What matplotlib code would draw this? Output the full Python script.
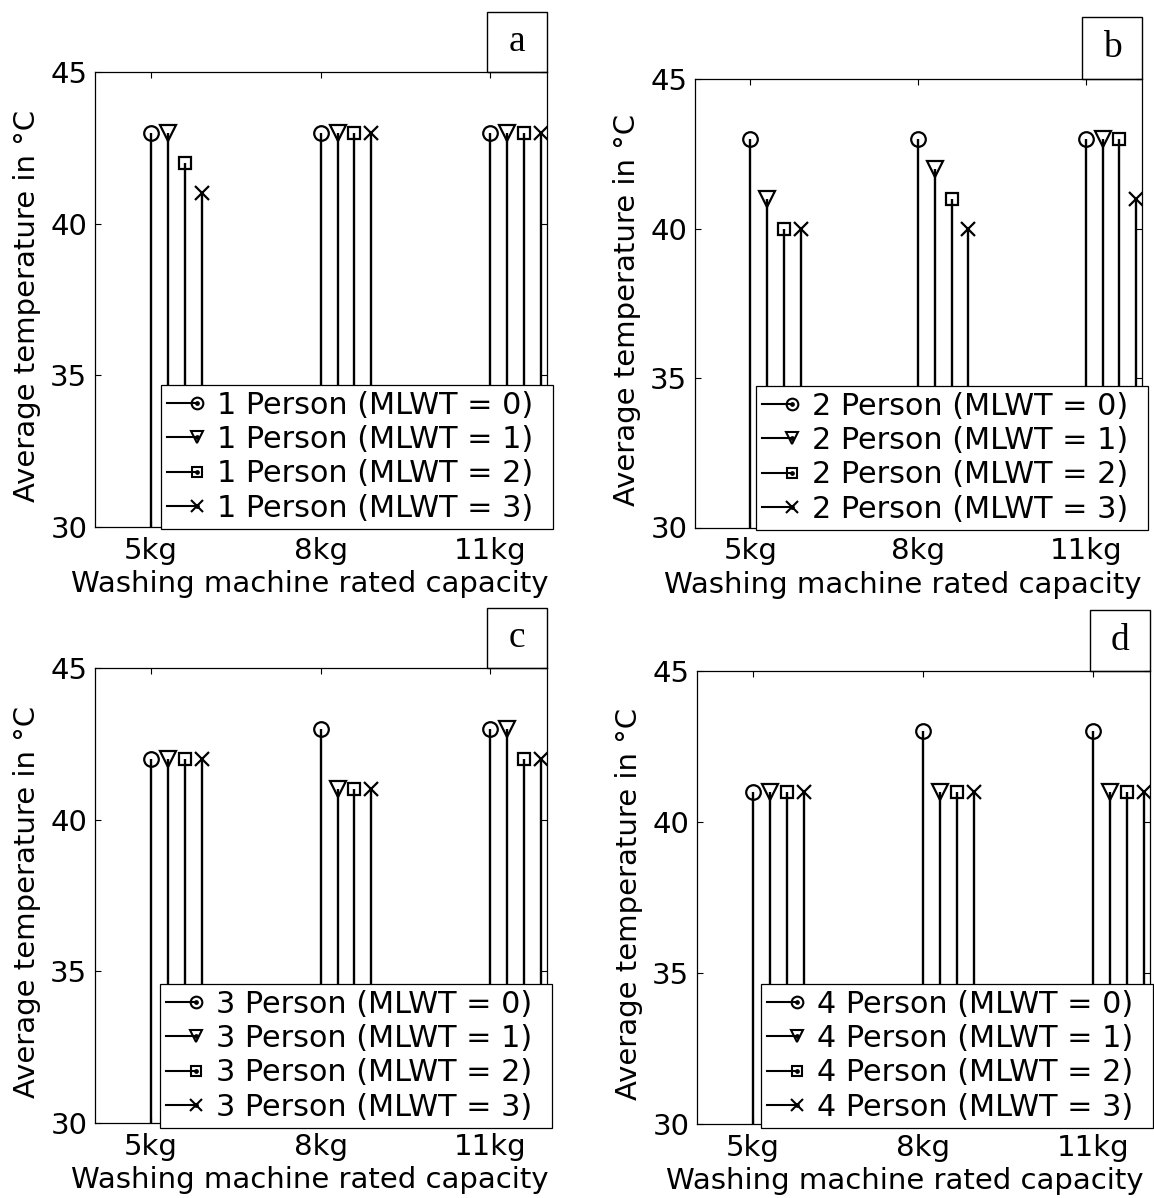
import matplotlib.pyplot as plt
import numpy as np
from matplotlib.legend_handler import HandlerBase
from matplotlib.lines import Line2D
from matplotlib.patches import Rectangle

capacities = ['5kg', '8kg', '11kg']
mlwt_levels = [0, 1, 2, 3]

# average temperature, one row per MLWT level, one column per capacity
temps_1_person = [[43, 43, 43],
                  [43, 43, 43],
                  [42, 43, 43],
                  [41, 43, 43]]
temps_2_person = [[43, 43, 43],
                  [41, 42, 43],
                  [40, 41, 43],
                  [40, 40, 41]]
temps_3_person = [[42, 43, 43],
                  [42, 41, 43],
                  [42, 41, 42],
                  [42, 41, 42]]
temps_4_person = [[41, 43, 43],
                  [41, 41, 41],
                  [41, 41, 41],
                  [41, 41, 41]]

plt.rcParams['font.family'] = ['DejaVu Sans']
plt.rcParams['font.size'] = 21

W, H = 1154, 1198
fig = plt.figure(figsize=(W / 100, H / 100), dpi=100)

markers = ['o', 'v', 's', 'x']
msizes = [10.5, 11, 9.2, 10]


class StemKey(HandlerBase):
    # legend key drawn as a short line ending in the marker, with a dot in it
    def create_artists(self, legend, orig_handle, xdescent, ydescent,
                       width, height, fontsize, trans):
        y = (height - ydescent) / 2
        x0, x1 = -xdescent, width - xdescent
        line = Line2D([x0, x1], [y, y], color='k', lw=1.5)
        mark = Line2D([x1], [y], marker=orig_handle.get_marker(),
                      markersize=orig_handle.get_markersize() * 0.8,
                      mfc='none', mec='k', mew=1.5, ls='none')
        dot = Line2D([x1], [y], marker='o', markersize=2.4, color='k', ls='none')
        for a in (line, mark, dot):
            a.set_transform(trans)
        return [line, mark, dot]


def px_box(x0, y0, x1, y1):
    # pixel box (top-left origin) -> figure fraction [left, bottom, width, height]
    return [x0 / W, 1 - y1 / H, (x1 - x0) / W, (y1 - y0) / H]


def draw_panel(box, temps, persons, letter, leg_box, tag_h, xlab_x):
    left, top, right, bottom = box
    ax = fig.add_axes(px_box(left, top, right, bottom))
    groups = np.arange(1, len(capacities) + 1)
    handles = []
    for k, level in enumerate(mlwt_levels):
        x = groups + 0.1 * k
        markerline, stemlines, baseline = ax.stem(x, temps[k], linefmt='k-',
                                                  markerfmt='ko', bottom=30)
        markerline.set_marker(markers[k])
        markerline.set_markersize(msizes[k])
        markerline.set_markerfacecolor('none')
        markerline.set_markeredgecolor('k')
        markerline.set_markeredgewidth(1.6)
        stemlines.set_linewidth(1.7)
        stemlines.set_color('k')
        baseline.set_visible(False)
        handles.append(Line2D([], [], marker=markers[k], markersize=msizes[k],
                              color='k', label=f'{persons} Person (MLWT = {level})'))

    ax.set_xlim(0.67, 3.335)
    ax.set_ylim(30, 45)
    ax.set_xticks(groups)
    ax.set_xticklabels(capacities)
    ax.set_yticks([30, 35, 40, 45])
    ax.tick_params(direction='in', top=True, right=True, length=4, width=0.8)
    ax.tick_params(axis='x', pad=7)
    ax.tick_params(axis='y', pad=5.5)
    for s in ax.spines.values():
        s.set_linewidth(0.9)
    ax.set_xlabel('Washing machine rated capacity', labelpad=4)
    ax.set_ylabel('Average temperature in °C', labelpad=7)
    ax.xaxis.label.set_x(xlab_x)
    ax.yaxis.label.set_y(0.485)

    lx0, ly0, lx1, ly1 = leg_box
    leg = ax.legend(handles=handles, loc='lower left', mode='expand',
                    bbox_to_anchor=px_box(lx0, ly0, lx1, ly1),
                    bbox_transform=fig.transFigure, borderaxespad=0,
                    handler_map={Line2D: StemKey()}, fancybox=False,
                    framealpha=1, edgecolor='k', fontsize=21.8,
                    borderpad=0.2, labelspacing=0.18, handlelength=1.0,
                    handletextpad=0.66)
    leg.get_frame().set_linewidth(0.9)

    # boxed panel letter sitting on the top right corner
    tag_w = 60
    rect = Rectangle(((right - tag_w) / W, 1 - top / H), tag_w / W, tag_h / H,
                     transform=fig.transFigure, fill=False, ec='k', lw=1.0,
                     clip_on=False)
    fig.add_artist(rect)
    fig.text((right - tag_w / 2) / W, 1 - (top - tag_h / 2) / H, letter,
             family='Liberation Serif', fontsize=27, ha='center', va='center')
    return ax


draw_panel((95, 72, 547, 527), temps_1_person, 1, 'a', (161, 361, 553, 529), 60, 0.476)
draw_panel((695, 79, 1142, 527.5), temps_2_person, 2, 'b', (756, 362, 1148, 530), 62, 0.465)
draw_panel((95, 668, 547, 1123), temps_3_person, 3, 'c', (160, 960, 552, 1128), 60, 0.476)
draw_panel((697, 671, 1150, 1124), temps_4_person, 4, 'd', (761, 960, 1153, 1128), 61, 0.458)

fig.savefig('out.png', dpi=100)
